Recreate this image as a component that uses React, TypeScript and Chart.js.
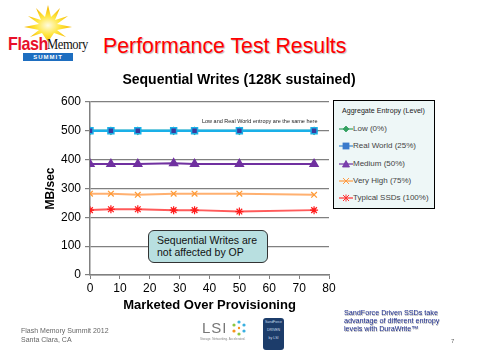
import React, { useEffect, useRef } from "react";
import { Chart, registerables } from "chart.js";

Chart.register(...registerables);

const opValues = [0, 7, 16, 28, 35, 50, 75];
const lowSeries = [500, 500, 500, 500, 500, 500, 500];
const realWorldSeries = [500, 500, 500, 500, 500, 500, 500];
const mediumSeries = [385, 385, 385, 388, 385, 385, 385];
const veryHighSeries = [282, 282, 278, 282, 282, 282, 278];
const typicalSeries = [225, 228, 228, 225, 225, 220, 225];

const seriesNames = ["Low (0%)", "Real World (25%)", "Medium (50%)", "Very High (75%)", "Typical SSDs (100%)"];
const xTickStep = 10;
const yTickStep = 100;

const FONT = "'Liberation Sans', Arial, sans-serif";

const toPoints = (ys: number[]) => ys.map((y, i) => ({ x: opValues[i], y }));

function LegendIcon({ kind, line, fill, stroke }: { kind: string; line: string; fill: string; stroke: string }) {
  let mark: any = null;
  if (kind === "diamond") mark = <polygon points="7,2 10,5 7,8 4,5" fill={fill} stroke={stroke} strokeWidth="0.8" />;
  if (kind === "square") mark = <rect x="4" y="2" width="6" height="6" fill={fill} stroke={stroke} strokeWidth="0.8" />;
  if (kind === "triangle") mark = <polygon points="7,1.5 10.5,8 3.5,8" fill={fill} stroke={stroke} strokeWidth="0.8" />;
  if (kind === "x") mark = <path d="M4,2 L10,8 M10,2 L4,8" stroke={stroke} strokeWidth="1" />;
  if (kind === "star") mark = <path d="M4,2 L10,8 M10,2 L4,8 M7,1.5 L7,8.5" stroke={stroke} strokeWidth="1" />;
  return (
    <svg width="14" height="10" style={{ display: "inline-block", verticalAlign: "middle" }}>
      <line x1="0" y1="5" x2="14" y2="5" stroke={line} strokeWidth="1.2" />
      {mark}
    </svg>
  );
}

export default function App() {
  const canvasRef = useRef<HTMLCanvasElement | null>(null);

  useEffect(() => {
    if (!canvasRef.current) return;
    const chart = new Chart(canvasRef.current, {
      type: "line",
      data: {
        datasets: [
          {
            label: seriesNames[0],
            data: toPoints(lowSeries),
            borderColor: "#33a060",
            backgroundColor: "#33a060",
            pointStyle: "rectRot",
            pointRadius: 3,
            borderWidth: 2,
            order: 10,
          },
          {
            label: seriesNames[1],
            data: toPoints(realWorldSeries),
            borderColor: "#1ab0e8",
            backgroundColor: "#3b3a9c",
            pointBackgroundColor: "#3b3a9c",
            pointBorderColor: "#1ab0e8",
            pointBorderWidth: 1.5,
            pointStyle: "rect",
            pointRadius: 4.2,
            borderWidth: 2.5,
            order: 1,
          },
          {
            label: seriesNames[2],
            data: toPoints(mediumSeries),
            borderColor: "#7030a0",
            backgroundColor: "#7030a0",
            pointStyle: "triangle",
            pointRadius: 4,
            borderWidth: 2,
            order: 2,
          },
          {
            label: seriesNames[3],
            data: toPoints(veryHighSeries),
            borderColor: "#ffb070",
            backgroundColor: "#ff9933",
            pointBorderColor: "#ff9933",
            pointStyle: "crossRot",
            pointRadius: 4,
            pointBorderWidth: 1.2,
            borderWidth: 2,
            order: 3,
          },
          {
            label: seriesNames[4],
            data: toPoints(typicalSeries),
            borderColor: "#ff5a5a",
            backgroundColor: "#ff1a1a",
            pointBorderColor: "#ff1a1a",
            pointStyle: "star",
            pointRadius: 4,
            pointBorderWidth: 1.2,
            borderWidth: 2,
            order: 4,
          },
        ],
      },
      options: {
        responsive: false,
        animation: false,
        layout: { padding: { left: 40, right: 151, top: 102, bottom: 45 } },
        plugins: { legend: { display: false }, title: { display: false }, tooltip: { enabled: false } },
        scales: {
          x: {
            type: "linear",
            min: 0,
            max: 80,
            ticks: { stepSize: xTickStep, color: "#000", font: { family: FONT, size: 12 }, padding: 2, maxRotation: 0 },
            grid: { drawOnChartArea: false, drawTicks: true, tickLength: 4, color: "#808080" },
            border: { color: "#808080", width: 1.5 },
            title: {
              display: true,
              text: "Marketed Over Provisioning",
              color: "#000",
              font: { family: FONT, size: 13, weight: "bold" },
              padding: { top: 0, bottom: 2 },
            },
            afterFit: (s: any) => {
              s.height = 40;
            },
          },
          y: {
            min: 0,
            max: 600,
            ticks: { stepSize: yTickStep, color: "#000", font: { family: FONT, size: 12 }, padding: 4 },
            grid: { color: "#808080", lineWidth: 1.2, tickLength: 5 },
            border: { color: "#808080", width: 1.5 },
            title: {
              display: true,
              text: "MB/sec",
              color: "#000",
              font: { family: FONT, size: 12, weight: "bold" },
              padding: { top: 3, bottom: 0 },
            },
            afterFit: (s: any) => {
              s.width = 50;
            },
          },
        },
      },
    } as any);
    return () => chart.destroy();
  }, []);

  const legendItems = [
    { name: seriesNames[0], kind: "diamond", line: "#33a060", fill: "#33a060", stroke: "#33a060" },
    { name: seriesNames[1], kind: "square", line: "#3a8ad0", fill: "#3a7acc", stroke: "#3a7acc" },
    { name: seriesNames[2], kind: "triangle", line: "#7030a0", fill: "#7a40b0", stroke: "#7030a0" },
    { name: seriesNames[3], kind: "x", line: "#ff9a40", fill: "#ff9a40", stroke: "#ff9a40" },
    { name: seriesNames[4], kind: "star", line: "#ff3030", fill: "#ff3030", stroke: "#ff3030" },
  ];

  const abs = (l: number, t: number, extra: any = {}) => ({ position: "absolute" as const, left: l, top: t, ...extra });

  return (
    <div style={{ position: "absolute", left: 0, top: 0, width: 480, height: 360, background: "#fff", fontFamily: FONT, overflow: "hidden" }}>
      {/* Logo */}
      <svg width="56" height="38" style={abs(20, 4)}>
        <defs>
          <radialGradient id="sun" cx="50%" cy="55%" r="50%">
            <stop offset="0%" stopColor="#fffbe0" />
            <stop offset="50%" stopColor="#ffe640" />
            <stop offset="100%" stopColor="#f5b800" />
          </radialGradient>
        </defs>
        <polygon
          points="28,1 31,13 40,4 35,16 48,12 37,20 52,23 37,26 46,33 34,29 28,38 22,29 10,33 19,26 4,23 19,20 8,12 21,16 16,4 25,13"
          fill="url(#sun)"
        />
      </svg>
      <div style={abs(8, 33, { fontSize: 19, fontWeight: "bold", color: "#e8102a", letterSpacing: -0.5, transform: "scaleX(0.85)", transformOrigin: "left top" })}>Flash</div>
      <div style={abs(47, 36, { fontSize: 15, color: "#111", letterSpacing: -0.5, transform: "scaleX(0.84)", transformOrigin: "left top", fontFamily: "'Liberation Serif', 'DejaVu Serif', serif" })}>Memory</div>
      <div style={abs(23, 53, { width: 50, height: 8, background: "#1e6ec0", color: "#fff", fontSize: 6, fontWeight: "bold", lineHeight: "8px", textAlign: "center", letterSpacing: 1 })}>SUMMIT</div>

      {/* Slide title */}
      <div style={abs(103, 34, { fontSize: 21.3, color: "#ff0000", textShadow: "1px 1px 1px #bbb", whiteSpace: "nowrap" })}>Performance Test Results</div>

      <canvas ref={canvasRef} width={480} height={360} style={abs(0, 0, { width: 480, height: 360 })} />

      {/* Chart title */}
      <div style={abs(89, 71, { width: 300, textAlign: "center", fontSize: 14, fontWeight: "bold", color: "#000", whiteSpace: "nowrap" })}>
        Sequential Writes (128K sustained)
      </div>

      {/* Note inside chart */}
      <div style={abs(202, 118, { fontSize: 5.5, color: "#222", whiteSpace: "nowrap" })}>Low and Real World entropy are the same here</div>

      {/* Legend */}
      <div style={abs(333, 100, { width: 102, height: 109, border: "1px solid #000", background: "#eef7f7", boxSizing: "border-box" })}>
        <div style={{ position: "absolute", left: 8, top: 6, fontSize: 7.1, color: "#222", whiteSpace: "nowrap" }}>Aggregate Entropy (Level)</div>
        {legendItems.map((it, i) => (
          <div key={it.name} style={{ position: "absolute", left: 5, top: 23 + i * 17.3, fontSize: 8, color: "#444", whiteSpace: "nowrap", lineHeight: "10px" }}>
            <LegendIcon kind={it.kind} line={it.line} fill={it.fill} stroke={it.stroke} />
            <span style={{ verticalAlign: "middle" }}>{it.name}</span>
          </div>
        ))}
      </div>

      {/* Annotation */}
      <div style={abs(148, 230, { width: 120, height: 33, boxSizing: "border-box", background: "#b8dfe0", border: "1px solid #333", borderRadius: 6, padding: "3px 0 0 8px", fontSize: 10.5, lineHeight: "12px", color: "#111" })}>
        Sequential Writes are
        <br />
        not affected by OP
      </div>

      {/* SandForce note */}
      <div style={abs(344, 309, { width: 120, fontSize: 7.2, lineHeight: "8px", color: "#203090", textShadow: "0.5px 0.5px 0.5px #aaa" })}>
        SandForce Driven SSDs take
        <br />
        advantage of different entropy
        <br />
        levels with DuraWrite™
      </div>
      <div style={abs(451, 338, { fontSize: 6, color: "#666" })}>7</div>

      {/* Footer */}
      <div style={abs(21, 326, { fontSize: 7, lineHeight: "9px", color: "#666", whiteSpace: "nowrap" })}>
        Flash Memory Summit 2012
        <br />
        Santa Clara, CA
      </div>

      {/* LSI logo */}
      <div style={abs(202, 320, { fontSize: 15, color: "#777", letterSpacing: 1, lineHeight: "16px" })}>LSI</div>
      <svg width="16" height="16" style={abs(231, 320)}>
        <circle cx="8" cy="2" r="1.6" fill="#3ab0e0" />
        <circle cx="3" cy="5" r="1.6" fill="#8cc63f" />
        <circle cx="13" cy="5" r="1.6" fill="#3ab0e0" />
        <circle cx="3" cy="11" r="1.6" fill="#f7941d" />
        <circle cx="13" cy="11" r="1.6" fill="#3ab0e0" />
        <circle cx="8" cy="14" r="1.6" fill="#8cc63f" />
        <circle cx="8" cy="8" r="1.2" fill="#f7941d" />
      </svg>
      <div style={abs(200, 337, { fontSize: 3, color: "#888", whiteSpace: "nowrap" })}>Storage. Networking. Accelerated.</div>
      <div style={abs(263, 318, { width: 21, height: 32, background: "#1c3c6a", borderRadius: 3, color: "#cde", fontSize: 3.5, textAlign: "center", lineHeight: "8px" })}>
        SandForce
        <br />
        DRIVEN
        <br />
        by LSI
      </div>
    </div>
  );
}
